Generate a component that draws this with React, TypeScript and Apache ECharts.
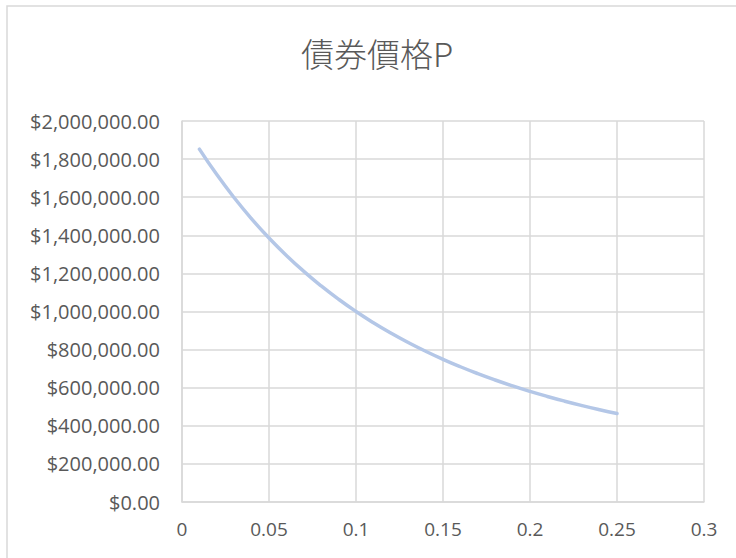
import React, { useEffect, useRef } from "react";
import * as echarts from "echarts";

const titleText = "債券價格P";
const rates = [0.01, 0.02, 0.03, 0.04, 0.05, 0.06, 0.07, 0.08, 0.09, 0.1, 0.11, 0.12, 0.13, 0.14, 0.15, 0.16, 0.17, 0.18, 0.19, 0.2, 0.21, 0.22, 0.23, 0.24, 0.25];
const prices = [1852417, 1718607, 1597114, 1486654, 1386087, 1294404, 1210707, 1134201, 1064177, 1000000, 941107, 886995, 837212, 791356, 749062, 710007, 673898, 640473, 609496, 580753, 554051, 529218, 506095, 484540, 464424];

export default function App() {
  const ref = useRef<HTMLDivElement>(null);
  useEffect(() => {
    if (!ref.current) return;
    const chart = echarts.init(ref.current, undefined, { renderer: "svg" });
    const font = "'Open Sans', 'Noto Sans', sans-serif";
    chart.setOption({
      animation: false,
      backgroundColor: "#ffffff",
      graphic: [
        {
          type: "rect",
          shape: { x: 7, y: 6, width: 800, height: 600 },
          style: { fill: "none", stroke: "#d9d9d9", lineWidth: 1.5 },
          silent: true,
        },
      ],
      title: {
        text: titleText,
        left: 372,
        textAlign: "center",
        top: 31,
        textStyle: {
          fontFamily: "'Noto Sans CJK TC', 'Noto Sans CJK SC', sans-serif",
          fontSize: 33,
          fontWeight: 300,
          color: "#595959",
        },
      },
      grid: { left: 182, right: 32, top: 121, bottom: 56, containLabel: false },
      xAxis: {
        type: "value",
        min: 0,
        max: 0.3,
        interval: 0.05,
        axisLine: { show: true, lineStyle: { color: "#d9d9d9", width: 1.5 } },
        axisTick: { show: false },
        splitLine: { show: true, lineStyle: { color: "#d9d9d9", width: 1.5 } },
        axisLabel: {
          color: "#595959",
          fontSize: 19,
          fontFamily: font,
          margin: 17,
          formatter: (v: number) => String(Math.round(v * 100) / 100),
        },
      },
      yAxis: {
        type: "value",
        min: 0,
        max: 2000000,
        interval: 200000,
        axisLine: { show: true, lineStyle: { color: "#d9d9d9", width: 1.5 } },
        axisTick: { show: false },
        splitLine: { show: true, lineStyle: { color: "#d9d9d9", width: 1.5 } },
        axisLabel: {
          color: "#595959",
          fontSize: 20,
          fontFamily: font,
          margin: 22,
          formatter: (v: number) =>
            "$" + v.toLocaleString("en-US", { minimumFractionDigits: 2, maximumFractionDigits: 2 }),
        },
      },
      series: [
        {
          type: "line",
          data: rates.map((r, i) => [r, prices[i]]),
          showSymbol: false,
          smooth: true,
          lineStyle: { color: "#b4c7e7", width: 3.5, cap: "round" },
        },
      ],
    });
    return () => chart.dispose();
  }, []);
  return (
    <div
      ref={ref}
      style={{ position: "absolute", left: 0, top: 0, width: 736, height: 558 }}
    />
  );
}
